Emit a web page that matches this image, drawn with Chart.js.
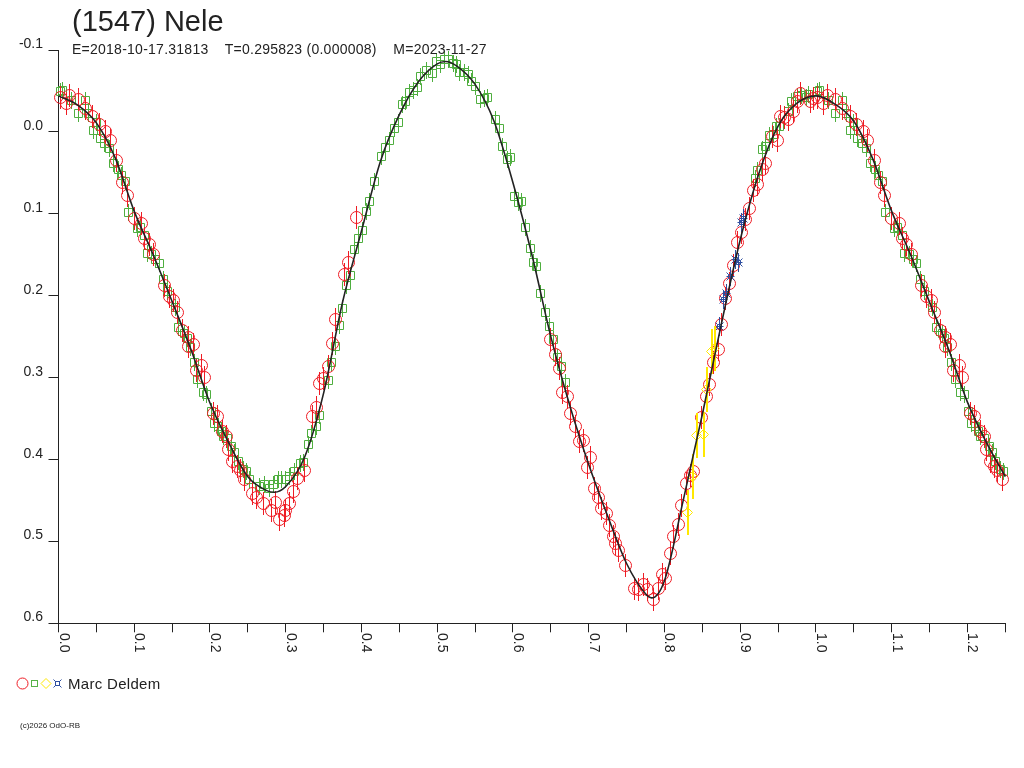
<!DOCTYPE html>
<html><head><meta charset="utf-8">
<script src="https://cdn.jsdelivr.net/npm/chart.js@4.4.0/dist/chart.umd.min.js"></script>
<style>
html,body{margin:0;padding:0;background:#fff;width:1024px;height:768px;overflow:hidden;font-family:"Liberation Sans",Arial,sans-serif;color:#222}
#wrap{position:relative;width:1024px;height:768px}
#c{position:absolute;left:0;top:0}
.t{position:absolute;white-space:pre;line-height:1}
</style></head><body>
<div id="wrap">
<canvas id="c" width="1024" height="768"></canvas>
<div class="t" style="left:72px;top:7px;font-size:29px;">(1547) Nele</div>
<div class="t" style="left:72px;top:42px;font-size:14px;letter-spacing:0.25px;">E=2018-10-17.31813    T=0.295823 (0.000008)    M=2023-11-27</div>
<svg style="position:absolute;left:0;top:670px" width="70" height="28">
  <circle cx="22.5" cy="13.5" r="5.5" fill="none" stroke="#ee1c24" stroke-width="1"/>
  <rect x="31.5" y="10.5" width="6" height="6" fill="none" stroke="#56b348" stroke-width="1"/>
  <polygon points="46,8.5 51,13.5 46,18.5 41,13.5" fill="none" stroke="#ffe800" stroke-width="1"/>
  <g stroke="#2f4fa0" stroke-width="1" fill="none">
    <rect x="55.5" y="11.5" width="4" height="4"/>
    <line x1="53.5" y1="9.5" x2="55.5" y2="11.5"/><line x1="61.5" y1="9.5" x2="59.5" y2="11.5"/>
    <line x1="53.5" y1="17.5" x2="55.5" y2="15.5"/><line x1="61.5" y1="17.5" x2="59.5" y2="15.5"/>
  </g>
</svg>
<div class="t" style="left:68px;font-size:15px;letter-spacing:0.3px;top:676px">Marc Deldem</div>
<div class="t" style="left:20px;top:722px;font-size:8px;">(c)2026 OdO-RB</div>
</div>
<script>
// ---------- data ----------
const xTickValues = [0,0.1,0.2,0.3,0.4,0.5,0.6,0.7,0.8,0.9,1.0,1.1,1.2];
const xTickLabels = ['0.0','0.1','0.2','0.3','0.4','0.5','0.6','0.7','0.8','0.9','1.0','1.1','1.2'];
const yTickValues = [-0.1,0,0.1,0.2,0.3,0.4,0.5,0.6];
const yTickLabels = ['-0.1','0.0','0.1','0.2','0.3','0.4','0.5','0.6'];

const fitPhase = [0,0.025,0.05,0.075,0.1,0.125,0.15,0.175,0.2,0.225,0.25,0.275,0.285,0.3,0.325,0.35,0.375,0.4,0.425,0.45,0.475,0.5,0.511,0.525,0.55,0.575,0.6,0.625,0.65,0.675,0.7,0.725,0.75,0.775,0.783,0.8,0.825,0.85,0.875,0.9,0.925,0.95,0.975,1.0,1.025,1.05,1.075,1.1,1.125,1.15,1.175,1.2,1.225,1.25];
const fitMag   = [-0.044,-0.033,-0.011,0.032,0.097,0.150,0.207,0.266,0.331,0.380,0.421,0.438,0.440,0.433,0.397,0.319,0.208,0.121,0.036,-0.021,-0.061,-0.083,-0.086,-0.081,-0.058,-0.013,0.062,0.150,0.250,0.334,0.406,0.469,0.527,0.564,0.569,0.548,0.449,0.345,0.235,0.132,0.050,-0.007,-0.035,-0.044,-0.034,-0.013,0.033,0.097,0.150,0.208,0.265,0.330,0.379,0.421];

const redPhase = [0.002,0.010,0.015,0.026,0.035,0.045,0.054,0.0625,0.068,0.077,0.085,0.091,0.100,0.110,0.114,0.120,0.126,0.140,0.146,0.152,0.157,0.164,0.171,0.171,0.178,0.182,0.189,0.193,0.204,0.2095,0.217,0.222,0.225,0.230,0.236,0.240,0.246,0.256,0.262,0.270,0.281,0.286,0.292,0.298,0.300,0.305,0.310,0.315,0.325,0.336,0.340,0.345,0.350,0.357,0.362,0.366,0.378,0.383,0.393,
  0.650,0.656,0.661,0.666,0.672,0.676,0.682,0.688,0.693,0.698,0.702,0.707,0.713,0.717,0.724,0.728,0.733,0.735,0.739,0.749,0.760,0.766,0.772,0.778,0.785,0.792,0.797,0.802,0.808,0.812,0.818,0.823,0.829,0.835,0.838,0.849,0.855,0.860,0.865,0.871,0.875,0.880,0.886,0.891,0.897,0.902,0.907,0.912,0.918,0.923,0.929,0.933,0.943,0.949,0.953,0.958,0.964,0.970,0.975,0.980,0.993,0.997];
const redMag = [-0.042,-0.035,-0.045,-0.040,-0.029,-0.019,-0.009,-0.0003,0.011,0.035,0.062,0.078,0.106,0.112,0.130,0.137,0.150,0.188,0.201,0.206,0.221,0.243,0.251,0.262,0.259,0.291,0.285,0.300,0.344,0.348,0.366,0.372,0.388,0.403,0.409,0.413,0.425,0.441,0.446,0.454,0.462,0.452,0.473,0.468,0.462,0.454,0.439,0.423,0.414,0.348,0.336,0.307,0.301,0.286,0.258,0.229,0.174,0.160,0.104,
  0.254,0.272,0.289,0.318,0.323,0.344,0.360,0.378,0.377,0.410,0.397,0.435,0.447,0.460,0.466,0.480,0.494,0.502,0.511,0.529,0.557,0.559,0.553,0.559,0.571,0.557,0.541,0.545,0.515,0.494,0.479,0.456,0.429,0.419,0.415,0.349,0.323,0.308,0.281,0.266,0.235,0.204,0.185,0.163,0.135,0.123,0.107,0.093,0.072,0.064,0.046,0.038,0.006,0.010,-0.019,-0.017,-0.015,-0.025,-0.037,-0.047,-0.037,-0.041];

const greenPhase = [0.002,0.005,0.017,0.026,0.035,0.040,0.046,0.050,0.0555,0.061,0.067,0.072,0.079,0.083,0.088,0.092,0.104,0.108,0.114,0.117,0.123,0.1285,0.133,0.138,0.1435,0.154,0.159,0.167,0.170,0.174,0.179,0.184,0.191,0.1955,0.202,0.2056,0.211,0.215,0.2175,0.223,0.2285,0.233,0.237,0.244,0.248,0.2527,0.266,0.2725,0.278,0.2835,0.290,0.2946,0.300,0.3055,0.312,0.3197,0.324,0.3297,0.334,0.340,0.345,0.356,0.3606,0.366,0.3707,0.375,0.3805,0.3857,0.391,0.3967,0.4016,0.407,0.411,0.417,0.4267,0.432,0.4367,0.443,0.4486,0.4544,0.4575,0.464,0.4684,0.4737,0.478,0.486,0.494,0.4993,0.5037,0.509,0.5147,0.521,0.525,0.530,0.5354,0.541,0.5446,0.550,0.5565,0.562,0.566,0.5764,0.5816,0.5865,0.5926,0.597,0.602,0.607,0.6116,0.617,0.6226,0.627,0.6314,0.6367,0.6425,0.6477,0.6534,0.6587,0.6635,0.6688,
  0.920,0.923,0.929,0.933,0.939,0.944,0.9485,0.952,0.964,0.968,0.975,0.9815,0.987,0.990];
const greenMag = [-0.049,-0.051,-0.038,-0.023,-0.038,-0.022,-0.002,-0.011,0.008,0.014,0.020,0.038,0.046,0.053,0.061,0.099,0.118,0.117,0.126,0.148,0.150,0.156,0.161,0.180,0.195,0.215,0.239,0.246,0.252,0.263,0.281,0.302,0.318,0.321,0.342,0.356,0.360,0.366,0.372,0.374,0.384,0.392,0.403,0.412,0.415,0.425,0.433,0.431,0.435,0.430,0.424,0.424,0.424,0.421,0.415,0.405,0.404,0.382,0.368,0.360,0.346,0.304,0.282,0.262,0.236,0.216,0.187,0.175,0.144,0.130,0.121,0.097,0.085,0.060,0.030,0.019,0.011,-0.004,-0.011,-0.033,-0.037,-0.048,-0.051,-0.054,-0.068,-0.075,-0.071,-0.086,-0.082,-0.089,-0.088,-0.084,-0.082,-0.072,-0.072,-0.070,-0.061,-0.055,-0.039,-0.041,-0.042,-0.015,-0.004,0.018,0.034,0.031,0.079,0.086,0.085,0.117,0.142,0.159,0.164,0.197,0.221,0.237,0.254,0.276,0.287,0.306,
  0.057,0.047,0.022,0.018,0.004,0.003,-0.006,-0.006,-0.025,-0.037,-0.043,-0.045,-0.042,-0.046];

const yellowPhase = [0.831,0.8375,0.842,0.851,0.856,0.8626,0.866];
const yellowMag   = [0.465,0.421,0.371,0.370,0.315,0.268,0.264];

const bluePhase = [0.8727,0.878,0.8824,0.8877,0.8943,0.8977,0.9023,0.905];
const blueMag   = [0.238,0.205,0.197,0.177,0.156,0.160,0.111,0.106];

// ---------- helpers ----------
function toPoints(ph, mg){
  const pts = ph.map((p,i)=>({x:p,y:mg[i]}));
  ph.forEach((p,i)=>{ if (p + 1 <= 1.25) pts.push({x:p+1, y:mg[i]}); });
  return pts;
}
function marker(kind, color, err, barW){
  const w = 15, h = Math.max(15, 2*err+3);
  const cv = document.createElement('canvas');
  cv.width = w; cv.height = h;
  const g = cv.getContext('2d');
  const cx = Math.floor(w/2)+0.5, cy = Math.floor(h/2)+0.5;
  g.strokeStyle = color; g.lineWidth = 1;
  g.beginPath();
  if (kind === 'circle') { g.arc(cx, cy, 6, 0, Math.PI*2); }
  else if (kind === 'square') { g.rect(cx-4, cy-4, 8, 8); }
  else if (kind === 'diamond') { g.moveTo(cx, cy-5); g.lineTo(cx+5, cy); g.lineTo(cx, cy+5); g.lineTo(cx-5, cy); g.closePath(); }
  else if (kind === 'star') {
    g.rect(cx-2, cy-2, 4, 4);
    g.moveTo(cx-4, cy-4); g.lineTo(cx-2, cy-2);
    g.moveTo(cx+4, cy-4); g.lineTo(cx+2, cy-2);
    g.moveTo(cx-4, cy+4); g.lineTo(cx-2, cy+2);
    g.moveTo(cx+4, cy+4); g.lineTo(cx+2, cy+2);
    g.moveTo(cx-4, cy); g.lineTo(cx+4, cy);
  }
  g.stroke();
  g.fillStyle = color;
  const bw = barW || 1;
  g.fillRect(Math.floor(w/2) - Math.floor((bw-1)/2), cy-err-0.5, bw, 2*err+1);
  return cv;
}

const crispPlugin = {
  id: 'crisp',
  beforeDatasetsDraw(chart){ chart.ctx.imageSmoothingEnabled = false; }
};

const labelPlugin = {
  id: 'tickText',
  afterDraw(chart){
    const ctx = chart.ctx, xs = chart.scales.x, ys = chart.scales.y;
    ctx.save();
    ctx.fillStyle = '#222';
    ctx.font = '14px "Liberation Sans", Arial, sans-serif';
    ctx.textAlign = 'right'; ctx.textBaseline = 'alphabetic';
    yTickValues.forEach((v,i)=>{ ctx.fillText(yTickLabels[i], 43, ys.getPixelForValue(v) - 2); });
    xTickValues.forEach((v,i)=>{
      const px = xs.getPixelForValue(v);
      ctx.save();
      ctx.translate(px + 1, 633);
      ctx.rotate(Math.PI/2);
      ctx.textAlign = 'left'; ctx.textBaseline = 'alphabetic';
      ctx.fillText(xTickLabels[i], 0, 0);
      ctx.restore();
    });
    ctx.restore();
  }
};

new Chart(document.getElementById('c'), {
  type: 'scatter',
  data: {
    datasets: [
      { label:'fit', data: fitPhase.map((p,i)=>({x:p,y:fitMag[i]})), showLine:true, pointRadius:0,
        borderColor:'#222', borderWidth:1.6, cubicInterpolationMode:'monotone', order:0, clip:false },
      { label:'yellow', data: toPoints(yellowPhase, yellowMag), pointStyle: marker('diamond','#ffe800',22,2), pointRadius:5, order:1, clip:false },
      { label:'blue', data: toPoints(bluePhase, blueMag), pointStyle: marker('star','#2f4fa0',9,1), pointRadius:5, order:1, clip:false },
      { label:'red', data: toPoints(redPhase, redMag), pointStyle: marker('circle','#ee1c24',11,1), pointRadius:6, order:2, clip:false },
      { label:'green', data: toPoints(greenPhase, greenMag), pointStyle: marker('square','#4fae3f',8,1), pointRadius:5, order:3, clip:false }
    ]
  },
  options: {
    responsive:false, animation:false, devicePixelRatio:1, events:[],
    layout:{ padding:{ left:48.5, right:18.7, top:50, bottom:135.7 } },
    plugins:{ legend:{display:false}, tooltip:{enabled:false}, title:{display:false} },
    scales:{
      x:{ type:'linear', min:0, max:1.25,
          ticks:{ display:false, stepSize:0.05 },
          grid:{ drawOnChartArea:false, drawTicks:true, tickLength:9, color:'#222' },
          border:{ display:true, color:'#222', width:1 } },
      y:{ type:'linear', min:-0.1, max:0.6, reverse:true,
          ticks:{ display:false, stepSize:0.1 },
          grid:{ drawOnChartArea:false, drawTicks:true, tickLength:10, color:'#222' },
          border:{ display:true, color:'#222', width:1 } }
    }
  },
  plugins:[crispPlugin, labelPlugin]
});
</script>
</body></html>
